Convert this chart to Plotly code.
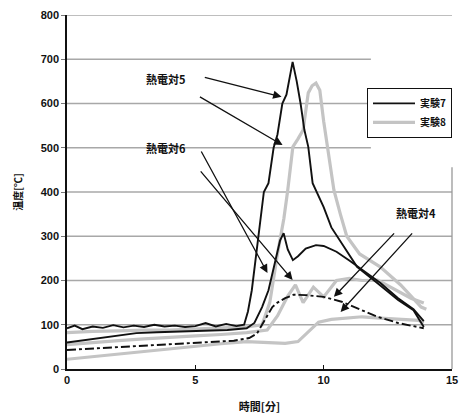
import plotly.graph_objects as go

# ---- data (time [min], temperature [°C]) ----
exp7_tc5_x = [0, 0.3, 0.6, 1.0, 1.4, 1.8, 2.2, 2.6, 3.0, 3.4, 3.8, 4.2, 4.6, 5.0, 5.4, 5.8, 6.2, 6.6, 6.9, 7.05, 7.2, 7.45, 7.67, 7.85, 8.05, 8.2, 8.39, 8.55, 8.7, 8.79, 8.95, 9.1, 9.25, 9.4, 9.57, 9.8, 10.0, 10.3, 10.7, 11.3, 12.1, 12.9, 13.5, 13.9]
exp7_tc5_y = [92, 98, 90, 96, 93, 99, 94, 98, 95, 100, 96, 98, 95, 97, 104, 96, 102, 97, 100, 130, 178, 300, 400, 420, 500, 530, 600, 620, 670, 694, 650, 600, 540, 502, 420, 390, 366, 320, 285, 231, 194, 156, 133, 95]

exp7_tc6_x = [0, 1, 2, 2.7, 3.5, 4.5, 5.5, 6.25, 7.0, 7.3, 7.6, 7.85, 8.1, 8.3, 8.44, 8.6, 8.8, 9.0, 9.3, 9.7, 10.0, 10.5, 11.0, 11.5, 12.2, 12.9, 13.5, 13.9]
exp7_tc6_y = [60, 68, 75, 81, 83, 85, 87, 88, 92, 104, 140, 178, 240, 290, 307, 270, 246, 255, 272, 280, 278, 265, 245, 224, 195, 160, 135, 108]

exp7_tc4_x = [0, 1, 2, 3, 3.6, 4.5, 5.5, 6.5, 7.1, 7.4, 7.7, 8.0, 8.2, 8.5, 8.83, 9.3, 10.0, 10.7, 11.4, 12.1, 12.9, 13.5, 13.9]
exp7_tc4_y = [43, 46, 49, 52, 54, 57, 60, 64, 70, 80, 110, 140, 150, 160, 168, 167, 163, 152, 135, 118, 104, 96, 92]

exp8_tc5_x = [0, 1, 2, 3, 4, 5, 6, 7, 7.6, 7.9, 8.2, 8.45, 8.6, 8.8, 9.0, 9.2, 9.4, 9.55, 9.7, 9.85, 10.0, 10.2, 10.4, 10.65, 10.9, 11.4, 12.2, 13.0, 13.5, 13.8, 14.0]
exp8_tc5_y = [82, 85, 86, 88, 88, 90, 92, 95, 100, 150, 260, 340, 404, 502, 520, 540, 624, 640, 646, 630, 560, 480, 404, 350, 300, 260, 231, 190, 160, 140, 135]

exp8_tc6_x = [0, 1, 2, 3, 4, 5, 6, 7, 7.8, 8.2, 8.6, 8.9, 9.2, 9.6, 10.0, 10.5, 11.0, 11.5, 12.1, 12.8, 13.4, 13.9]
exp8_tc6_y = [55, 60, 64, 68, 72, 75, 78, 82, 88, 120, 165, 190, 150, 185, 163, 200, 205, 200, 201, 180, 160, 149]

exp8_tc4_x = [0, 1, 2, 3, 4, 5, 6, 7, 8, 8.5, 9.0, 9.4, 9.8, 10.3, 10.9, 11.5, 12.2, 13.0, 13.7, 13.9]
exp8_tc4_y = [22, 28, 34, 40, 46, 52, 57, 62, 60, 58, 62, 85, 106, 112, 115, 118, 115, 112, 110, 104]

series_names = ["実験7", "実験8"]
x_ticks = [0, 5, 10, 15]
y_ticks = [0, 100, 200, 300, 400, 500, 600, 700, 800]

# annotation labels and arrows: (tail x, tail y, tip x, tip y)
label_5 = ("熱電対5", 3.87, 655)
label_6 = ("熱電対6", 3.87, 499)
label_4 = ("熱電対4", 13.6, 352)
arrows_5 = [(5.31, 660, 8.36, 615), (5.12, 617, 8.4, 506)]
arrows_6 = [(5.2, 495, 7.81, 217), (5.16, 450, 8.79, 201)]
arrows_4 = [(12.8, 310, 10.4, 163), (13.5, 310, 10.66, 129)]

BLACK = "#111111"
GRAY = "#c4c4c4"
GRID = "#a8a8a8"
CJK = "Noto Sans CJK JP"

fig = go.Figure()

# horizontal gridlines (the ones behind the legend stop short, as in the scan)
for v in y_ticks[1:]:
    x_end = 11.84 if v in (500, 600, 700) else 15
    fig.add_shape(type="line", xref="x", yref="y", x0=0, x1=x_end, y0=v, y1=v,
                  line=dict(color=GRID, width=1.3), layer="below")

gray_series = [(exp8_tc6_x, exp8_tc6_y), (exp8_tc4_x, exp8_tc4_y), (exp8_tc5_x, exp8_tc5_y)]
for i, (xs, ys) in enumerate(gray_series):
    fig.add_trace(go.Scatter(x=xs, y=ys, mode="lines", line=dict(color=GRAY, width=3.2),
                             name=series_names[1], legendgroup="e8", showlegend=(i == 2),
                             legendrank=2))

black_series = [(exp7_tc5_x, exp7_tc5_y, "solid"), (exp7_tc6_x, exp7_tc6_y, "solid"),
                (exp7_tc4_x, exp7_tc4_y, "dashdot")]
for i, (xs, ys, dash) in enumerate(black_series):
    fig.add_trace(go.Scatter(x=xs, y=ys, mode="lines", line=dict(color=BLACK, width=1.9, dash=dash),
                             name=series_names[0], legendgroup="e7", showlegend=(i == 0),
                             legendrank=1))

for text, tx, ty in (label_5, label_6, label_4):
    fig.add_annotation(x=tx, y=ty, text=text, showarrow=False,
                       font=dict(family=CJK, size=11, color=BLACK, weight="bold"))

for ax_, ay_, x_, y_ in arrows_5 + arrows_6 + arrows_4:
    fig.add_annotation(x=x_, y=y_, ax=ax_, ay=ay_, axref="x", ayref="y", xref="x", yref="y",
                       text="", showarrow=True, arrowhead=2, arrowsize=1.3, arrowwidth=1.3,
                       arrowcolor=BLACK)

fig.update_layout(
    width=462, height=416,
    margin=dict(l=67, r=10, t=15, b=47),
    paper_bgcolor="white", plot_bgcolor="white",
    showlegend=True,
    legend=dict(x=1.0, y=0.794, xanchor="right", yanchor="top",
                bgcolor="white", bordercolor=BLACK, borderwidth=1,
                font=dict(family=CJK, size=10, color=BLACK, weight="bold"),
                tracegroupgap=0, itemwidth=42),
    xaxis=dict(range=[0, 15], tickvals=x_ticks, ticktext=[str(v) for v in x_ticks],
               showgrid=False, zeroline=False, automargin=False,
               showline=True, linecolor=BLACK, linewidth=1.5, mirror=False,
               ticks="inside", ticklen=4, tickcolor=BLACK,
               tickfont=dict(family="Liberation Sans", size=11, color=BLACK, weight="bold"),
               title=dict(text="時間[分]", standoff=18,
                          font=dict(family=CJK, size=11, color=BLACK, weight="bold"))),
    yaxis=dict(range=[0, 800], tickvals=y_ticks, ticktext=[str(v) for v in y_ticks],
               showgrid=False, zeroline=False, automargin=False,
               showline=True, linecolor=BLACK, linewidth=1.5,
               ticks="outside", ticklen=4, tickcolor="#777777",
               tickfont=dict(family="Liberation Sans", size=11, color=BLACK, weight="bold"),
               title=dict(text="温度[℃]", standoff=16,
                          font=dict(family=CJK, size=10, color=BLACK, weight="bold"))),
)

fig.add_shape(type="line", xref="paper", yref="paper", x0=1, x1=1, y0=0, y1=0.57,
              line=dict(color="#999999", width=1.3))

fig.write_html("out.html")
